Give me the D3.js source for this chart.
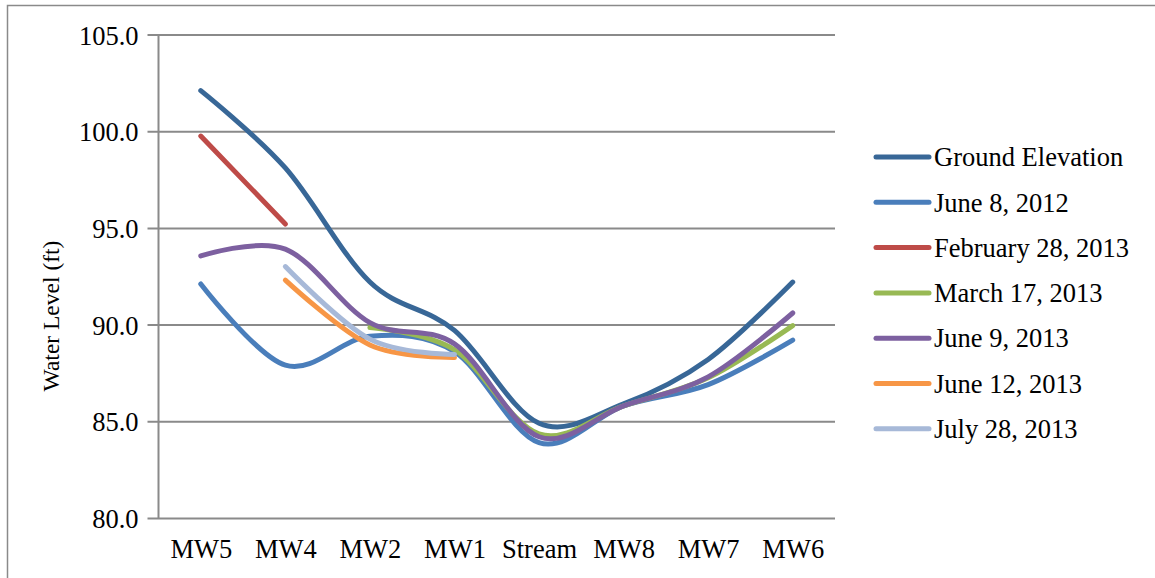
<!DOCTYPE html>
<html>
<head>
<meta charset="utf-8">
<script src="https://cdn.jsdelivr.net/npm/d3@7/dist/d3.min.js"></script>
<style>
  html, body { margin: 0; padding: 0; background: #ffffff; }
  svg { display: block; }
  text { font-family: "Liberation Serif", "Times New Roman", serif; fill: #000; }
</style>
</head>
<body>
<svg id="chart" width="1155" height="578"></svg>
<script>
// Well locations along the transect
const categories = ["MW5", "MW4", "MW2", "MW1", "Stream", "MW8", "MW7", "MW6"];

// Water levels (ft); null where no reading was taken
const groundElevation = [102.1, 98.1, 92.2, 89.7, 84.9, 85.9, 88.2, 92.2];
const june8_2012     = [92.1, 87.9, 89.4, 88.6, 83.9, 85.8, 86.9, 89.2];
const feb28_2013     = [99.75, 95.2, null, null, null, null, null, null];
const mar17_2013     = [null, null, 89.85, 88.7, 84.35, 85.8, 87.25, 89.95];
const june9_2013     = [93.55, 93.9, 90.1, 89.0, 84.2, 85.8, 87.3, 90.6];
const june12_2013    = [null, 92.3, 88.95, 88.3, null, null, null, null];
const july28_2013    = [null, 93.0, 89.25, 88.45, null, null, null, null];

const seriesNames = ["Ground Elevation", "June 8, 2012", "February 28, 2013",
  "March 17, 2013", "June 9, 2013", "June 12, 2013", "July 28, 2013"];
const seriesValues = [groundElevation, june8_2012, feb28_2013, mar17_2013,
  june9_2013, june12_2013, july28_2013];
const seriesColors = ["#386797", "#4A7EBB", "#BE4B48", "#98B954",
  "#7D60A0", "#F79646", "#A7B9D8"];

const yTicks = [80, 85, 90, 95, 100, 105];
const yTitle = "Water Level (ft)";

const svg = d3.select("#chart");
const font = 26.5;

// Outer chart frame
svg.append("rect")
  .attr("x", 7.5).attr("y", 5.5)
  .attr("width", 1200).attr("height", 600)
  .attr("fill", "none").attr("stroke", "#8a8a8a").attr("stroke-width", 1.5);

const plot = { left: 158.5, right: 835, top: 34.5, bottom: 518 };

const x = d3.scalePoint()
  .domain(categories)
  .range([plot.left, plot.right])
  .padding(0.5);

const y = d3.scaleLinear()
  .domain([80, 105])
  .range([plot.bottom, plot.top]);

// Horizontal gridlines with outward ticks
const yAxis = d3.axisLeft(y)
  .tickValues(yTicks)
  .tickSize(-(plot.right - plot.left))
  .tickSizeOuter(0)
  .tickFormat(d3.format(".1f"));

const gy = svg.append("g")
  .attr("transform", `translate(${plot.left},0)`)
  .call(yAxis);
gy.select(".domain").remove();
gy.selectAll(".tick line")
  .attr("x1", -11)
  .attr("stroke", "#8a8a8a")
  .attr("stroke-width", 2);
gy.selectAll(".tick text")
  .style("font-size", font + "px")
  .style("font-family", "Liberation Serif, serif")
  .attr("fill", "#000")
  .attr("x", -20)
  .attr("dy", "0.36em");

// Vertical axis line
svg.append("line")
  .attr("x1", plot.left).attr("x2", plot.left)
  .attr("y1", plot.top).attr("y2", plot.bottom)
  .attr("stroke", "#8a8a8a").attr("stroke-width", 2);

// Category axis
const xAxis = d3.axisBottom(x).tickSize(0).tickPadding(0);
const gx = svg.append("g")
  .attr("transform", `translate(0,${plot.bottom})`)
  .call(xAxis);
gx.select(".domain").remove();
gx.selectAll(".tick text")
  .style("font-size", font + "px")
  .style("font-family", "Liberation Serif, serif")
  .attr("fill", "#000")
  .attr("dy", null)
  .attr("y", 40);

// Axis title
svg.append("text")
  .attr("transform", "translate(59,316) rotate(-90)")
  .attr("text-anchor", "middle")
  .style("font-size", "23.5px")
  .text(yTitle);

// Smoothed series lines
const line = d3.line()
  .defined(d => d.v != null)
  .x(d => x(d.c))
  .y(d => y(d.v))
  .curve(d3.curveCardinal.tension(0));

const lines = svg.append("g");
seriesValues.forEach((vals, i) => {
  const pts = categories.map((c, j) => ({ c, v: vals[j] }));
  lines.append("path")
    .datum(pts)
    .attr("d", line)
    .attr("fill", "none")
    .attr("stroke", seriesColors[i])
    .attr("stroke-width", 5)
    .attr("stroke-linecap", "round")
    .attr("stroke-linejoin", "round");
});

// Legend
const legend = svg.append("g");
const legendTop = 157, legendStep = 45.3;
seriesNames.forEach((name, i) => {
  const ly = legendTop + i * legendStep;
  legend.append("line")
    .attr("x1", 876).attr("x2", 929)
    .attr("y1", ly).attr("y2", ly)
    .attr("stroke", seriesColors[i])
    .attr("stroke-width", 5)
    .attr("stroke-linecap", "round");
  legend.append("text")
    .attr("x", 934).attr("y", ly)
    .attr("dy", "0.35em")
    .style("font-size", font + "px")
    .text(name);
});
</script>
</body>
</html>
